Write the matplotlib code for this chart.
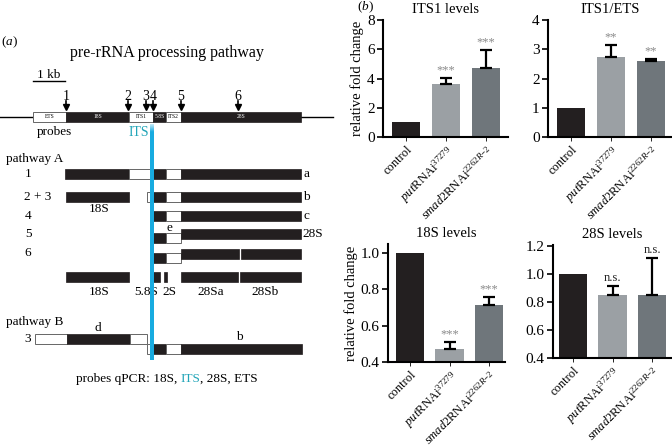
import numpy as np
import matplotlib
matplotlib.use("Agg")
import matplotlib.pyplot as plt
from matplotlib.patches import Rectangle

plt.rcParams['font.family'] = ['Liberation Serif', 'DejaVu Serif']
plt.rcParams['mathtext.fontset'] = 'custom'
plt.rcParams['mathtext.rm'] = 'Liberation Serif'
plt.rcParams['mathtext.it'] = 'Liberation Serif:italic'

BLACK = '#231f20'
LIGHT = '#9ba0a4'
DARK = '#6f767b'
CYAN = '#18abe0'
TEAL = '#22a5b8'

# ---- panel (b) data ----
groups = ['control', r'$\mathit{put}\mathrm{RNAi}^{37279}$', r'$\mathit{smad}\mathrm{2RNAi}^{2262R{-}2}$']
its1 = [1.0, 3.65, 4.7]
its1_err = [0, 0.4, 1.25]
its1_ets = [1.0, 2.75, 2.6]
its1_ets_err = [0, 0.4, 0.08]
rna18 = [1.0, 0.47, 0.715]
rna18_err = [0, 0.04, 0.045]
rna28 = [1.0, 0.855, 0.85]
rna28_err = [0, 0.06, 0.27]

# ---- panel (a) diagram layout (pixel units) ----
main_row = [(33, 66, 'w', 'ETS'), (66, 129, 'k', '18S'), (129, 153, 'w', 'ITS1'),
            (153, 166, 'k', '5.8S'), (166, 181, 'w', 'ITS2'), (181, 301, 'k', '28S')]
rows = [
    [(65, 129, 'k', 169), (129, 153, 'w', 169), (153, 166, 'k', 169), (166, 181, 'w', 169), (181, 301, 'k', 169)],
    [(66, 129, 'k', 192), (147, 153, 'w', 192), (153, 166, 'k', 192), (166, 181, 'w', 192), (181, 301, 'k', 192)],
    [(153, 166, 'k', 211), (166, 181, 'w', 211), (181, 301, 'k', 211)],
    [(153, 166, 'k', 233), (166, 181, 'w', 233), (181, 301, 'k', 229)],
    [(153, 166, 'k', 253), (166, 181, 'w', 253), (181, 239, 'k', 249), (241, 301, 'k', 249)],
    [(66, 129, 'k', 272), (153, 160, 'k', 272), (164, 167, 'k', 272), (181, 238, 'k', 272), (240, 301, 'k', 272)],
    [(35, 67, 'w', 334), (67, 130, 'k', 334), (130, 147, 'w', 334)],
    [(147, 153, 'w', 344), (153, 166, 'k', 344), (166, 181, 'w', 344), (181, 302, 'k', 344)],
]
cut_sites = [('1', 66), ('2', 128), ('3', 146), ('4', 153), ('5', 181), ('6', 238)]
texts = [
    ('pathway A', 6, 159, 'left'), ('1', 28, 174, 'center'), ('a', 304, 174, 'left'),
    ('2 + 3', 38, 197, 'center'), ('b', 303, 197, 'left'), ('18S', 99, 209, 'center'),
    ('4', 28, 216, 'center'), ('c', 303, 216, 'left'), ('5', 28, 234, 'center'),
    ('e', 169, 228, 'center'), ('28S', 302, 234, 'left'), ('6', 28, 253, 'center'),
    ('18S', 99, 292, 'center'), ('5.8S', 146, 292, 'center'), ('2S', 169, 292, 'center'),
    ('28Sa', 211, 292, 'center'), ('28Sb', 265, 292, 'center'),
    ('pathway B', 6, 322, 'left'), ('d', 98, 328, 'center'), ('3', 28, 339, 'center'),
    ('b', 239, 337, 'center'), ('probes', 37, 132, 'left'),
]

fig = plt.figure(figsize=(6.72, 4.46), dpi=100)
ax = fig.add_axes([0, 0, 1, 1])
ax.set_xlim(0, 672)
ax.set_ylim(446, 0)
ax.axis('off')

H = 9.5


def seg(x0, x1, c, y):
    if c == 'k':
        ax.add_patch(Rectangle((x0, y), x1 - x0, H, facecolor=BLACK, edgecolor=BLACK, lw=0.5, zorder=3))
    else:
        ax.add_patch(Rectangle((x0, y), x1 - x0, H, facecolor='white', edgecolor='#666666', lw=0.7, zorder=3))


ax.text(1, 42, r'($\mathit{a}$)', fontsize=9.5, va='center')
ax.text(167, 53, 'pre-rRNA processing pathway', fontsize=11.5, ha='center', va='center')
ax.text(49, 75, '1 kb', fontsize=9.5, ha='center', va='center')
ax.plot([33, 65], [81, 81], color='black', lw=1)

ax.plot([0, 333], [117, 117], color='black', lw=1, zorder=2)
for x0, x1, c, lab in main_row:
    seg(x0, x1, c, 112)
    ax.text((x0 + x1) / 2, 117, lab, fontsize=4, ha='center', va='center',
            color='white' if c == 'k' else 'black', zorder=4)
for lab, x in cut_sites:
    ax.text(x, 96, lab, fontsize=10, ha='center', va='center')
    ax.plot([x, x], [101, 106], color='black', lw=1.2)
    ax.plot(x, 107, marker='v', color='black', ms=4.5)

for r in rows:
    for x0, x1, c, y in r:
        seg(x0, x1, c, y)

for t, x, y, ha in texts:
    ax.text(x, y, t, fontsize=9.5, ha=ha, va='center')

ax.text(139, 133, 'ITS', fontsize=10, ha='center', va='center', color=TEAL)

# cyan probe bar with faded top
ax.add_patch(Rectangle((150, 132), 4, 228, facecolor=CYAN, edgecolor='none', zorder=6))
grad = np.ones((20, 1, 4))
grad[:, 0, :3] = matplotlib.colors.to_rgb(CYAN)
grad[:, 0, 3] = np.linspace(0.25, 1, 20)
ax.imshow(grad, extent=(150, 154, 132, 124), aspect='auto', zorder=6, interpolation='bilinear')
ax.set_xlim(0, 672)
ax.set_ylim(446, 0)

# bottom caption with a coloured word
t1 = ax.text(80, 379, 'probes qPCR: 18S, ', fontsize=9.5, ha='left', va='center')
fig.canvas.draw()
bb = t1.get_window_extent().transformed(ax.transData.inverted())
t2 = ax.text(bb.x1, 379, 'ITS', fontsize=9.5, ha='left', va='center', color=TEAL)
bb2 = t2.get_window_extent().transformed(ax.transData.inverted())
t3 = ax.text(bb2.x1, 379, ', 28S, ETS', fontsize=9.5, ha='left', va='center')
bb3 = t3.get_window_extent().transformed(ax.transData.inverted())
shift = 167 - (80 + bb3.x1) / 2
for t in (t1, t2, t3):
    t.set_x(t.get_position()[0] + shift)

ax.text(357, 7, r'($\mathit{b}$)', fontsize=9.5, va='center', ha='left')


def px_axes(left, right, top, bottom):
    return fig.add_axes([left / 672, 1 - bottom / 446, (right - left) / 672, (bottom - top) / 446])


def bar_panel(a, vals, errs, ylim, yticks, title, marks, xlim, ylabel=False, width=0.72):
    x = np.arange(3)
    a.bar(x, vals, width=width, color=[BLACK, LIGHT, DARK], zorder=2)
    e = np.array(errs)
    sel = e > 0
    a.errorbar(x[sel], np.array(vals)[sel], yerr=[np.zeros(sel.sum()), e[sel]], fmt='none',
               ecolor='black', elinewidth=1.6, capsize=4.5, capthick=1.6, zorder=3)
    span = ylim[1] - ylim[0]
    for i, m in enumerate(marks):
        if m:
            col = '#8a8a8a' if '*' in m else '#222222'
            a.text(i, vals[i] + errs[i] + span * 0.015, m, ha='center', va='bottom',
                   fontsize=9, color=col)
    a.set_ylim(*ylim)
    a.set_xlim(*xlim)
    a.set_yticks(yticks)
    a.set_yticklabels(['%g' % v if isinstance(v, int) else '%.1f' % v for v in yticks], fontsize=11)
    a.set_xticks(x)
    a.set_xticklabels(groups, rotation=45, ha='right', rotation_mode='anchor', fontsize=9)
    for s in ('top', 'right'):
        a.spines[s].set_visible(False)
    for s in ('left', 'bottom'):
        a.spines[s].set_linewidth(1.5)
    a.tick_params(axis='y', length=4, width=1.2, pad=2)
    a.tick_params(axis='x', length=3, width=0.6, pad=2)
    a.set_title(title, fontsize=10.5, pad=5)
    if ylabel:
        a.set_ylabel('relative fold change', fontsize=10.5, labelpad=2)
    a.set_facecolor('none')


a1 = px_axes(383, 508, 20, 137)
bar_panel(a1, its1, its1_err, (0, 8), [0, 2, 4, 6, 8], 'ITS1 levels', ['', '***', '***'],
          (-0.575, 2.55), ylabel=True)
a2 = px_axes(548, 672, 20, 137)
bar_panel(a2, its1_ets, its1_ets_err, (0, 4), [0, 1, 2, 3, 4], 'ITS1/ETS', ['', '**', '**'],
          (-0.58, 2.53))
a3 = px_axes(388, 505, 244, 362)
bar_panel(a3, rna18, rna18_err, (0.4, 1.05), [0.4, 0.6, 0.8, 1.0], '18S levels', ['', '***', '***'],
          (-0.56, 2.4), ylabel=True)
a4 = px_axes(553, 672, 245, 358)
bar_panel(a4, rna28, rna28_err, (0.4, 1.21), [0.4, 0.6, 0.8, 1.0, 1.2], '28S levels', ['', 'n.s.', 'n.s.'],
          (-0.5, 2.5))

fig.savefig('out.png', dpi=100)
